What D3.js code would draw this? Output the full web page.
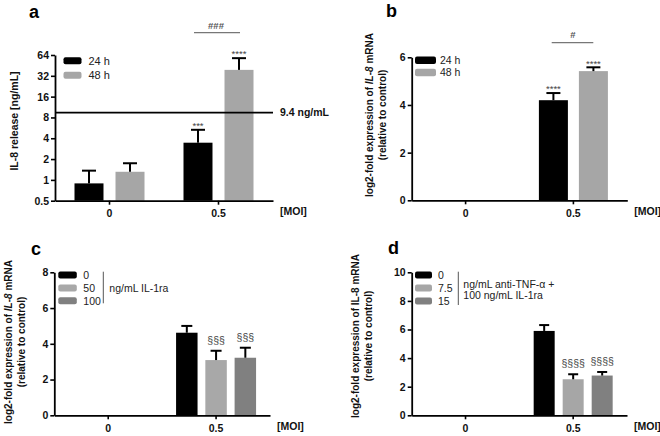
<!DOCTYPE html>
<html><head><meta charset="utf-8">
<script src="https://cdn.jsdelivr.net/npm/d3@7"></script>
<style>
html,body{margin:0;padding:0;background:#fff;}
svg{display:block;font-family:"Liberation Sans",Arial,sans-serif;}
</style></head>
<body>
<svg id="chart" width="660" height="436"></svg>
<script>
// ---------- data ----------
const xCategories = ["0", "0.5"];

// Panel a: IL-8 release (ng/mL), log2 axis
const aSeries = ["24 h", "48 h"];
const a24h = [0.89, 3.45];
const a48h = [1.31, 39];
const a24hErr = [0.47, 1.85];
const a48hErr = [0.43, 18.6];
const aMarks24h = ["", "***"];
const aMarks48h = ["", "****"];
const aTicks = [0.5, 1, 2, 4, 8, 16, 32, 64];
const aThreshold = 9.4;
const aThresholdLabel = "9.4 ng/mL";

// Panel b: log2-fold IL-8 mRNA
const bSeries = ["24 h", "48 h"];
const b24h = [0, 4.2];
const b48h = [0, 5.42];
const b24hErr = [0, 0.3];
const b48hErr = [0, 0.16];
const bMarks24h = ["", "****"];
const bMarks48h = ["", "****"];
const bTicks = [0, 2, 4, 6];

// Panel c: IL-1ra
const cSeries = ["0", "50", "100"];
const c0 = [0, 4.62];
const c50 = [0, 3.09];
const c100 = [0, 3.22];
const c0Err = [0, 0.38];
const c50Err = [0, 0.52];
const c100Err = [0, 0.56];
const cMarks = [["", ""], ["", "§§§"], ["", "§§§"]];
const cTicks = [0, 2, 4, 6, 8];

// Panel d: anti-TNF-α + IL-1ra
const dSeries = ["0", "7.5", "15"];
const d0 = [0, 5.9];
const d75 = [0, 2.52];
const d15 = [0, 2.78];
const d0Err = [0, 0.41];
const d75Err = [0, 0.35];
const d15Err = [0, 0.25];
const dMarks = [["", ""], ["", "§§§§"], ["", "§§§§"]];
const dTicks = [0, 2, 4, 6, 8, 10];

// ---------- drawing ----------
const svg = d3.select("#chart");
const FONT_TICK = 10.5;

function panel(cfg) {
  const g = svg.append("g");
  const x = d3.scaleBand().domain(xCategories).range([cfg.left, cfg.right]).padding(0);
  const sub = d3.scaleBand().domain(cfg.series).range([-cfg.groupW / 2, cfg.groupW / 2])
    .paddingInner(cfg.pad).paddingOuter(0);
  const y = cfg.y;
  const base = y.range()[0];

  cfg.series.forEach((s, si) => {
    const vals = cfg.values[si], errs = cfg.errs[si], marks = cfg.marks[si];
    xCategories.forEach((c, ci) => {
      const v = vals[ci];
      if (!(v > 0)) return;
      const x0 = x(c) + x.bandwidth() / 2 + sub(s);
      const yTop = y(v);
      g.append("rect").attr("x", x0).attr("y", yTop).attr("width", sub.bandwidth())
        .attr("height", base - yTop).attr("fill", cfg.colors[si]);
      const cx = x0 + sub.bandwidth() / 2;
      const yErr = y(v + errs[ci]);
      g.append("line").attr("x1", cx).attr("x2", cx).attr("y1", yTop).attr("y2", yErr)
        .attr("stroke", "#000").attr("stroke-width", 2);
      g.append("line").attr("x1", cx - cfg.cap / 2).attr("x2", cx + cfg.cap / 2)
        .attr("y1", yErr).attr("y2", yErr).attr("stroke", "#000").attr("stroke-width", 2);
      if (marks[ci]) {
        const isSec = marks[ci].indexOf("§") >= 0;
        g.append("text").attr("x", cx).attr("y", yErr - (isSec ? 7 : 0.8))
          .attr("text-anchor", "middle")
          .attr("font-size", isSec ? 10.5 : 9.5).attr("fill", "#444")
          .text(marks[ci]);
      }
    });
  });

  const ya = g.append("g").attr("transform", `translate(${cfg.left},0)`)
    .call(d3.axisLeft(y).tickValues(cfg.ticks).tickFormat(d => String(d)).tickSize(4).tickSizeOuter(0).tickPadding(2));
  const xa = g.append("g").attr("transform", `translate(0,${base})`)
    .call(d3.axisBottom(x).tickSize(4).tickSizeOuter(0).tickPadding(3));
  [ya, xa].forEach(a => {
    a.select(".domain").attr("stroke", "#000").attr("stroke-width", 1.8);
    a.selectAll(".tick line").attr("stroke", "#000").attr("stroke-width", 1.6);
    a.selectAll(".tick text").attr("font-size", FONT_TICK).attr("font-weight", "bold")
      .attr("fill", "#111").attr("font-family", "Liberation Sans, Arial, sans-serif");
  });
  xa.selectAll(".tick text").attr("dy", "0.9em");

  g.append("text").attr("x", cfg.right + 7).attr("y", base + 14.5)
    .attr("font-size", 10.5).attr("font-weight", "bold").attr("fill", "#111").text("[MOI]");

  g.append("text").attr("x", cfg.letterX).attr("y", cfg.letterY)
    .attr("font-size", 18).attr("font-weight", "bold").text(cfg.letter);

  const t = g.append("text").attr("transform", `translate(${cfg.titleX},${cfg.titleY}) rotate(-90)`)
    .attr("text-anchor", "middle").attr("font-weight", "bold").attr("font-size", cfg.titleSize).attr("fill", "#111");
  cfg.title.forEach((line, i) => {
    const ts = t.append("tspan").attr("x", 0).attr("dy", i === 0 ? 0 : cfg.titleGap);
    line.forEach(part => {
      ts.append("tspan").attr("font-style", part.italic ? "italic" : null).text(part.t);
    });
  });
  return { g, x, y, sub };
}

// Panel a
const pa = panel({
  left: 55, right: 273, groupW: 70, pad: 0.293, cap: 14,
  y: d3.scaleLog().base(2).domain([0.5, 64]).range([200.7, 55]),
  ticks: aTicks, series: aSeries, values: [a24h, a48h], errs: [a24hErr, a48hErr],
  marks: [aMarks24h, aMarks48h], colors: ["#000000", "#a6a6a6"],
  letter: "a", letterX: 29, letterY: 18,
  title: [[{ t: "IL-8 release [ng/mL]" }]], titleX: 18, titleY: 121, titleSize: 10.5, titleGap: 13
});
pa.g.append("line").attr("x1", 55).attr("x2", 273)
  .attr("y1", pa.y(aThreshold)).attr("y2", pa.y(aThreshold)).attr("stroke", "#000").attr("stroke-width", 1.6);
pa.g.append("text").attr("x", 280).attr("y", pa.y(aThreshold) + 3.8)
  .attr("font-size", 10.5).attr("font-weight", "bold").attr("fill", "#111").text(aThresholdLabel);
pa.g.append("line").attr("x1", 194).attr("x2", 240).attr("y1", 32.7).attr("y2", 32.7)
  .attr("stroke", "#777").attr("stroke-width", 1.2);
pa.g.append("text").attr("x", 216).attr("y", 28.5).attr("text-anchor", "middle")
  .attr("font-size", 9.5).attr("font-weight", "bold").attr("fill", "#555").text("###");
aSeries.forEach((s, i) => {
  const cy = 60.7 + i * 14.5;
  pa.g.append("rect").attr("x", 63.5).attr("y", cy - 3.5).attr("width", 18).attr("height", 7)
    .attr("rx", 2).attr("fill", i === 0 ? "#000" : "#a6a6a6");
  pa.g.append("text").attr("x", 88.5).attr("y", cy + 4).attr("font-size", 11).attr("fill", "#222").text(s);
});

// Panel b
const pb = panel({
  left: 411.7, right: 627.3, groupW: 69, pad: 0.275, cap: 14,
  y: d3.scaleLinear().domain([0, 6]).range([200.3, 57.3]),
  ticks: bTicks, series: bSeries, values: [b24h, b48h], errs: [b24hErr, b48hErr],
  marks: [bMarks24h, bMarks48h], colors: ["#000000", "#a6a6a6"],
  letter: "b", letterX: 386, letterY: 17,
  title: [[{ t: "log2-fold expression of " }, { t: "IL-8", italic: true }, { t: " mRNA" }], [{ t: "(relative to control)" }]],
  titleX: 373, titleY: 115, titleSize: 10, titleGap: 12.5
});
pb.g.append("line").attr("x1", 551.7).attr("x2", 593.3).attr("y1", 42.7).attr("y2", 42.7)
  .attr("stroke", "#777").attr("stroke-width", 1.2);
pb.g.append("text").attr("x", 573).attr("y", 37.5).attr("text-anchor", "middle")
  .attr("font-size", 9.5).attr("font-weight", "bold").attr("fill", "#555").text("#");
bSeries.forEach((s, i) => {
  const cy = 60 + i * 12.2;
  pb.g.append("rect").attr("x", 415).attr("y", cy - 3.5).attr("width", 21).attr("height", 7.5)
    .attr("rx", 2).attr("fill", i === 0 ? "#000" : "#a6a6a6");
  pb.g.append("text").attr("x", 440).attr("y", cy + 4).attr("font-size", 10.5).attr("fill", "#222").text(s);
});

// Panel c
const cColors = ["#000000", "#a8a8a8", "#808080"];
const pc = panel({
  left: 54.3, right: 270, groupW: 80, pad: 0.266, cap: 11,
  y: d3.scaleLinear().domain([0, 8]).range([415.3, 272.3]),
  ticks: cTicks, series: cSeries, values: [c0, c50, c100], errs: [c0Err, c50Err, c100Err],
  marks: cMarks, colors: cColors,
  letter: "c", letterX: 31, letterY: 254.5,
  title: [[{ t: "log2-fold expression of " }, { t: "IL-8", italic: true }, { t: " mRNA" }], [{ t: "(relative to control)" }]],
  titleX: 12, titleY: 342, titleSize: 10, titleGap: 13
});
cSeries.forEach((s, i) => {
  const cy = 275 + i * 12.9;
  pc.g.append("rect").attr("x", 58.3).attr("y", cy - 3.5).attr("width", 18.5).attr("height", 7)
    .attr("rx", 2).attr("fill", cColors[i]);
  pc.g.append("text").attr("x", 83.3).attr("y", cy + 4).attr("font-size", 10.5).attr("fill", "#222").text(s);
});
pc.g.append("line").attr("x1", 103.3).attr("x2", 103.3).attr("y1", 271.7).attr("y2", 303.3)
  .attr("stroke", "#555").attr("stroke-width", 1);
pc.g.append("text").attr("x", 109.3).attr("y", 292).attr("font-size", 10.5).attr("fill", "#222").text("ng/mL IL-1ra");

// Panel d
const dColors = ["#000000", "#a6a6a6", "#808080"];
const pd = panel({
  left: 411.7, right: 627, groupW: 79, pad: 0.276, cap: 10,
  y: d3.scaleLinear().domain([0, 10]).range([415.3, 272.3]),
  ticks: dTicks, series: dSeries, values: [d0, d75, d15], errs: [d0Err, d75Err, d15Err],
  marks: dMarks, colors: dColors,
  letter: "d", letterX: 388, letterY: 254,
  title: [[{ t: "log2-fold expression of IL-8 mRNA" }], [{ t: "(relative to control)" }]],
  titleX: 358.5, titleY: 336, titleSize: 10, titleGap: 13.5
});
dSeries.forEach((s, i) => {
  const cy = 275 + i * 13;
  pd.g.append("rect").attr("x", 415).attr("y", cy - 3.5).attr("width", 17).attr("height", 7)
    .attr("rx", 2).attr("fill", dColors[i]);
  pd.g.append("text").attr("x", 438).attr("y", cy + 4).attr("font-size", 10.5).attr("fill", "#222").text(s);
});
pd.g.append("line").attr("x1", 458.3).attr("x2", 458.3).attr("y1", 271.7).attr("y2", 305)
  .attr("stroke", "#555").attr("stroke-width", 1);
pd.g.append("text").attr("x", 463.3).attr("y", 287.5).attr("font-size", 10.5).attr("fill", "#222").text("ng/mL anti-TNF-α +");
pd.g.append("text").attr("x", 463.3).attr("y", 299).attr("font-size", 10.5).attr("fill", "#222").text("100 ng/mL IL-1ra");
</script>
</body></html>
